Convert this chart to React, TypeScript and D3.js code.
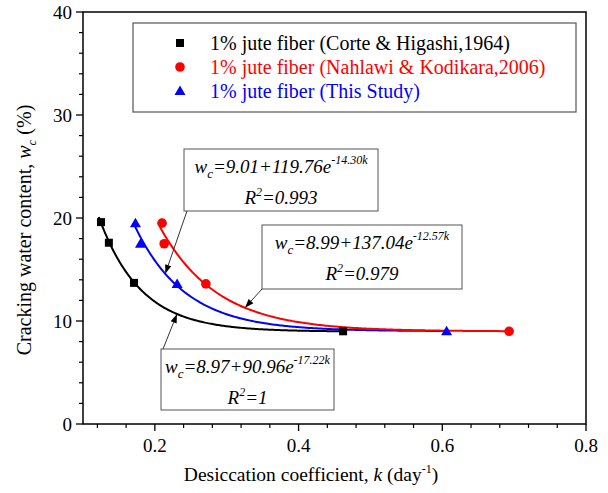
import React from "react";
import * as d3 from "d3";

// ---- data ----
const kCorte = [0.125, 0.136, 0.171, 0.462];
const wCorte = [19.6, 17.6, 13.7, 9.0];
const kNahlawi = [0.21, 0.213, 0.271, 0.693];
const wNahlawi = [19.5, 17.5, 13.6, 9.0];
const kStudy = [0.173, 0.18, 0.231, 0.606];
const wStudy = [19.5, 17.5, 13.6, 9.0];

// fit parameters wc = a + b*exp(c*k)
const fitCorte = [8.97, 90.96, -17.22];
const fitNahlawi = [8.99, 137.04, -12.57];
const fitStudy = [9.01, 119.76, -14.3];

const legendLabels = [
  "1% jute fiber (Corte & Higashi,1964)",
  "1% jute fiber (Nahlawi & Kodikara,2006)",
  "1% jute fiber (This Study)",
];
const xMajor = [0.2, 0.4, 0.6, 0.8];
const yMajor = [0, 10, 20, 30, 40];

const W = 608, H = 493;
const FONT = '"Liberation Serif", "Times New Roman", Times, "DejaVu Serif", serif';

export default function App() {
  const x = d3.scaleLinear().domain([0.1, 0.8]).range([83, 586]);
  const y = d3.scaleLinear().domain([0, 40]).range([424, 12]);

  const xMinor = d3.range(0.12, 0.8, 0.04).filter((v) => !xMajor.some((m) => Math.abs(m - v) < 1e-6));
  const yMinor = d3.range(2, 40, 2).filter((v) => v % 10 !== 0);

  const fitFn = (p: number[]) => (k: number) => p[0] + p[1] * Math.exp(p[2] * k);
  const curve = (p: number[], k0: number, k1: number) => {
    const f = fitFn(p);
    const pts = d3.range(0, 201).map((i) => k0 + ((k1 - k0) * i) / 200);
    return d3.line<number>().x((k) => x(k)).y((k) => y(f(k)))(pts) || "";
  };

  const series = [
    { k: kCorte, w: wCorte, fit: fitCorte, color: "#000000", shape: "square" },
    { k: kStudy, w: wStudy, fit: fitStudy, color: "#0000ff", shape: "triangle" },
    { k: kNahlawi, w: wNahlawi, fit: fitNahlawi, color: "#ff0000", shape: "circle" },
  ];

  const marker = (shape: string, cx: number, cy: number, color: string, key: any) => {
    if (shape === "square") return <rect key={key} x={cx - 4} y={cy - 4} width={8} height={8} fill={color} />;
    if (shape === "circle") return <circle key={key} cx={cx} cy={cy} r={4.8} fill={color} />;
    return <path key={key} d={`M${cx},${cy - 5.5}L${cx + 5.5},${cy + 4}L${cx - 5.5},${cy + 4}Z`} fill={color} />;
  };

  const boxes = [
    { x0: 184, y0: 149, w: 194, h: 62, a: "9.01", b: "119.76", c: "-14.30k", r2: "0.993", fit: fitStudy, kt: 0.2145, sx: 187, sy: 211 },
    { x0: 262, y0: 225, w: 200, h: 64, a: "8.99", b: "137.04", c: "-12.57k", r2: "0.979", fit: fitNahlawi, kt: 0.3254, sx: 262, sy: 289 },
    { x0: 161, y0: 349, w: 173, h: 61, a: "8.97", b: "90.96", c: "-17.22k", r2: "1", fit: fitCorte, kt: 0.2308, sx: 163, sy: 349 },
  ];

  const legendColors = ["#000000", "#ff0000", "#0000ff"];
  const legendShapes = ["square", "circle", "triangle"];
  const legendY = [44, 68, 92];
  const tf = { fontFamily: FONT };

  return (
    <svg width={W} height={H} style={{ position: "absolute", left: 0, top: 0, background: "#fff", fontFamily: FONT }}>
      <rect x={0} y={0} width={W} height={H} fill="#fff" />
      <rect x={x(0.1)} y={y(40)} width={x(0.8) - x(0.1)} height={y(0) - y(40)} fill="none" stroke="#000" strokeWidth={1.5} />
      {xMajor.map((v) => (
        <g key={"xm" + v}>
          <line x1={x(v)} x2={x(v)} y1={y(0)} y2={y(0) + 7} stroke="#000" strokeWidth={1.3} />
          <text style={tf} x={x(v)} y={452} textAnchor="middle" fontSize={19}>{v.toFixed(1)}</text>
        </g>
      ))}
      {xMinor.map((v) => (
        <line key={"xn" + v} x1={x(v)} x2={x(v)} y1={y(0)} y2={y(0) + 4} stroke="#000" strokeWidth={1.2} />
      ))}
      {yMajor.map((v) => (
        <g key={"ym" + v}>
          <line x1={x(0.1) - 7} x2={x(0.1)} y1={y(v)} y2={y(v)} stroke="#000" strokeWidth={1.3} />
          <text style={tf} x={72} y={y(v) + 6.5} textAnchor="end" fontSize={19}>{v}</text>
        </g>
      ))}
      {yMinor.map((v) => (
        <line key={"yn" + v} x1={x(0.1) - 4} x2={x(0.1)} y1={y(v)} y2={y(v)} stroke="#000" strokeWidth={1.2} />
      ))}
      <text style={tf} x={311} y={481} textAnchor="middle" fontSize={19.5}>
        Desiccation coefficient, <tspan fontStyle="italic">k</tspan> (day
        <tspan fontSize={12} dy={-8}>-1</tspan>
        <tspan dy={8}>)</tspan>
      </text>
      <text style={tf} transform="translate(31,230) rotate(-90)" textAnchor="middle" fontSize={20}>
        Cracking water content, <tspan fontStyle="italic">w</tspan>
        <tspan fontStyle="italic" fontSize={13} dy={5}>c</tspan>
        <tspan dy={-5}> (%)</tspan>
      </text>
      {series.map((s, i) => (
        <path key={"c" + i} d={curve(s.fit, s.k[0] - 0.003, s.k[s.k.length - 1])} fill="none" stroke={s.color} strokeWidth={2} />
      ))}
      {series.map((s, i) => s.k.map((k, j) => marker(s.shape, x(k), y(s.w[j]), s.color, `m${i}-${j}`)))}
      {boxes.map((b, i) => {
        const tx = x(b.kt);
        const ty = y(fitFn(b.fit)(b.kt));
        const ang = Math.atan2(ty - b.sy, tx - b.sx);
        const L = 9, Wd = 3.2;
        const bx = tx - L * Math.cos(ang), by = ty - L * Math.sin(ang);
        const px = -Math.sin(ang) * Wd, py = Math.cos(ang) * Wd;
        const cx = b.x0 + b.w / 2;
        return (
          <g key={"b" + i}>
            <rect x={b.x0} y={b.y0} width={b.w} height={b.h} fill="#fff" stroke="#555" strokeWidth={1} />
            <line x1={b.sx} y1={b.sy} x2={bx} y2={by} stroke="#333" strokeWidth={1} />
            <path d={`M${tx},${ty}L${bx + px},${by + py}L${bx - px},${by - py}Z`} fill="#000" />
            <text style={tf} x={cx} y={b.y0 + 24} textAnchor="middle" fontSize={19} fontStyle="italic">
              w<tspan fontSize={13} dy={5}>c</tspan>
              <tspan dy={-5}>={b.a}+{b.b}e</tspan>
              <tspan fontSize={12} dy={-9}>{b.c}</tspan>
            </text>
            <text style={tf} x={cx} y={b.y0 + 55} textAnchor="middle" fontSize={19} fontStyle="italic">
              R<tspan fontSize={12} dy={-8}>2</tspan>
              <tspan dy={8}>={b.r2}</tspan>
            </text>
          </g>
        );
      })}
      <rect x={133} y={23} width={443} height={89} fill="#fff" stroke="#555" strokeWidth={1.2} />
      {legendLabels.map((l, i) => (
        <g key={"l" + i}>
          {marker(legendShapes[i], 180, legendY[i] - 1, legendColors[i], "lm" + i)}
          <text style={tf} x={210} y={legendY[i] + 6} fontSize={20} fill={legendColors[i]}>{l}</text>
        </g>
      ))}
    </svg>
  );
}
